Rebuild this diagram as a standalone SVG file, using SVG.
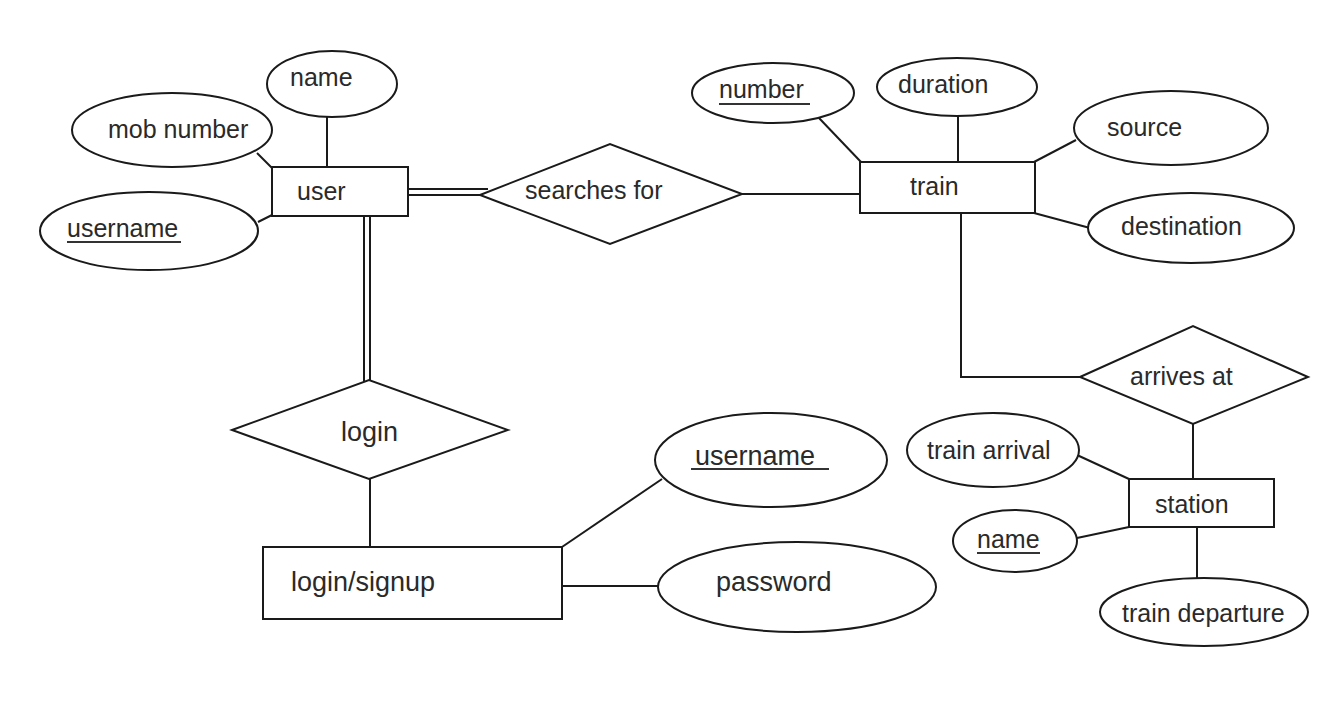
<svg xmlns="http://www.w3.org/2000/svg" width="1340" height="706" viewBox="0 0 1340 706">
<style>
.s{fill:#fff;stroke:#1a1a1a;stroke-width:2}
.c{fill:none;stroke:#1a1a1a;stroke-width:2}
.ul{stroke:#333;stroke-width:2}
text{font-family:"Liberation Sans",Arial,sans-serif;font-size:25px;fill:#2a2a2a}
.b{font-size:27px}
</style>
<rect width="1340" height="706" fill="#fff"/>
<g id="connectors">
<line class="c" x1="327" y1="117" x2="327" y2="167"/>
<line class="c" x1="257" y1="153" x2="272" y2="168"/>
<line class="c" x1="258" y1="222" x2="272" y2="215"/>
<line class="c" x1="408" y1="189" x2="488" y2="189"/>
<line class="c" x1="408" y1="195" x2="481" y2="195"/>
<line class="c" x1="364" y1="216" x2="364" y2="382"/>
<line class="c" x1="370" y1="216" x2="370" y2="382"/>
<line class="c" x1="742" y1="194" x2="860" y2="194"/>
<line class="c" x1="819" y1="118" x2="861" y2="162"/>
<line class="c" x1="958" y1="116" x2="958" y2="162"/>
<line class="c" x1="1034" y1="162" x2="1076" y2="140"/>
<line class="c" x1="1034" y1="213" x2="1090" y2="228"/>
<polyline class="c" points="961,213 961,377 1080,377"/>
<line class="c" x1="1193" y1="424" x2="1193" y2="479"/>
<line class="c" x1="1077" y1="455" x2="1129" y2="479"/>
<line class="c" x1="1077" y1="538" x2="1129" y2="527"/>
<line class="c" x1="1197" y1="527" x2="1197" y2="578"/>
<line class="c" x1="370" y1="479" x2="370" y2="547"/>
<line class="c" x1="562" y1="547" x2="662" y2="479"/>
<line class="c" x1="562" y1="586" x2="658" y2="586"/>
</g>
<g id="user-name"><ellipse class="s" cx="332" cy="84" rx="65" ry="33"/><text x="290" y="86">name</text></g>
<g id="user-mob"><ellipse class="s" cx="172" cy="130" rx="100" ry="37"/><text x="108" y="138">mob number</text></g>
<g id="user-username"><ellipse class="s" cx="149" cy="231" rx="109" ry="39"/><text x="67" y="237">username</text><line class="ul" x1="67" y1="242" x2="181" y2="242"/></g>
<g id="user"><rect class="s" x="272" y="167" width="136" height="49"/><text x="297" y="200">user</text></g>
<g id="searches-for"><polygon class="s" points="480,195 610,144 742,194 610,244"/><text x="525" y="199">searches for</text></g>
<g id="train"><rect class="s" x="860" y="162" width="175" height="51"/><text x="910" y="195">train</text></g>
<g id="train-number"><ellipse class="s" cx="773" cy="93" rx="81" ry="30"/><text x="719" y="98">number</text><line class="ul" x1="719" y1="104" x2="810" y2="104"/></g>
<g id="train-duration"><ellipse class="s" cx="957" cy="87" rx="80" ry="29"/><text x="898" y="93">duration</text></g>
<g id="train-source"><ellipse class="s" cx="1171" cy="128" rx="97" ry="37"/><text x="1107" y="136">source</text></g>
<g id="train-destination"><ellipse class="s" cx="1191" cy="228" rx="103" ry="35"/><text x="1121" y="235">destination</text></g>
<g id="arrives-at"><polygon class="s" points="1080,377 1193,326 1308,377 1193,424"/><text x="1130" y="385">arrives at</text></g>
<g id="station"><rect class="s" x="1129" y="479" width="145" height="48"/><text x="1155" y="513">station</text></g>
<g id="station-arrival"><ellipse class="s" cx="993" cy="450" rx="86" ry="37"/><text x="927" y="459">train arrival</text></g>
<g id="station-name"><ellipse class="s" cx="1015" cy="541" rx="62" ry="31"/><text x="977" y="548">name</text><line class="ul" x1="977" y1="553" x2="1040" y2="553"/></g>
<g id="station-departure"><ellipse class="s" cx="1204" cy="612" rx="104" ry="34"/><text x="1122" y="622">train departure</text></g>
<g id="login"><polygon class="s" points="232,430 369,380 508,430 369,479"/><text class="b" x="341" y="441">login</text></g>
<g id="login-signup"><rect class="s" x="263" y="547" width="299" height="72"/><text class="b" x="291" y="591">login/signup</text></g>
<g id="ls-username"><ellipse class="s" cx="771" cy="460" rx="116" ry="47"/><text class="b" x="695" y="465">username</text><line class="ul" x1="691" y1="469" x2="829" y2="469"/></g>
<g id="ls-password"><ellipse class="s" cx="797" cy="587" rx="139" ry="45"/><text class="b" x="716" y="591">password</text></g>
</svg>
